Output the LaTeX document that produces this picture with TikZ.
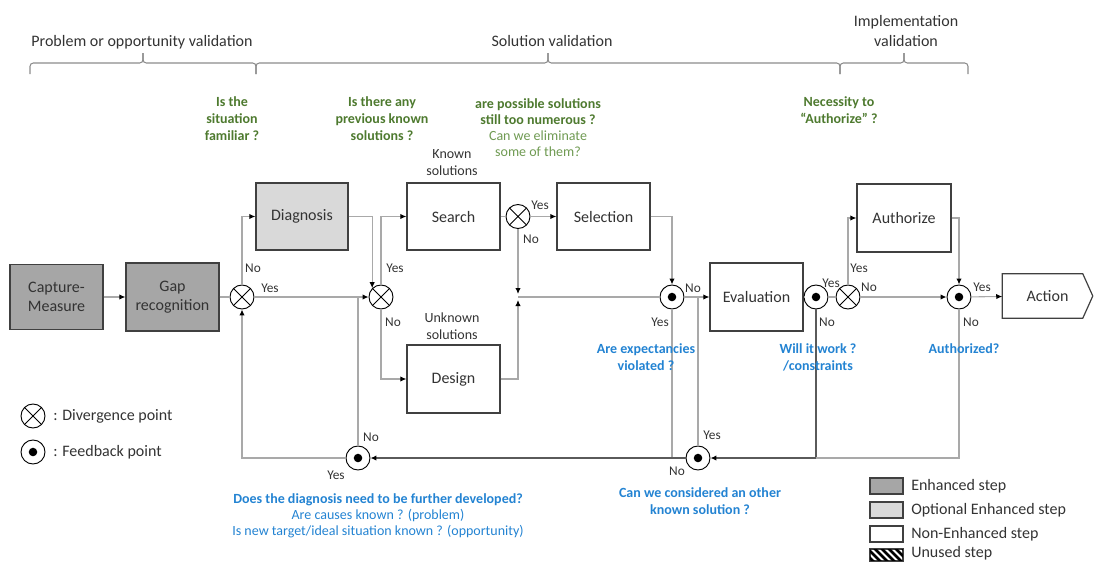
\documentclass[tikz,border=0pt]{standalone}
\usepackage{fontspec}
\setmainfont{Carlito}
\usetikzlibrary{arrows.meta,calc}

\definecolor{enh}{HTML}{A6A6A6}
\definecolor{opt}{HTML}{D9D9D9}
\definecolor{edge}{HTML}{404040}
\definecolor{wire}{HTML}{A9A9A9}
\definecolor{wiredark}{HTML}{5A5A5A}
\definecolor{qgreen}{HTML}{4E7A2F}
\definecolor{qgreenlight}{HTML}{6F9A52}
\definecolor{qblue}{HTML}{2383D2}
\definecolor{ink}{HTML}{333333}
\definecolor{bracecol}{HTML}{8C8C8C}

\begin{document}
\begin{tikzpicture}[x=0.75pt,y=-0.75pt,
  stepbox/.style={draw=edge,line width=0.9pt,fill=white,minimum width=69.75pt,
    minimum height=50.25pt,inner sep=0pt,text=ink,align=center,
    font=\fontsize{12}{14.5}\selectfont},
  enhanced/.style={stepbox,fill=enh},
  optional/.style={stepbox,fill=opt},
  plainstep/.style={stepbox,fill=white},
  diverge/.style={circle,draw=black,line width=0.7pt,fill=white,minimum size=18pt,inner sep=0pt,
    path picture={\draw[line width=0.7pt]
      (path picture bounding box.north west) -- (path picture bounding box.south east)
      (path picture bounding box.north east) -- (path picture bounding box.south west);}},
  feedback/.style={circle,draw=black,line width=0.7pt,fill=white,minimum size=18pt,inner sep=0pt,
    path picture={\fill[black] (path picture bounding box.center) circle (3.2pt);}},
  wire/.style={draw=wire,line width=0.8pt},
  flow/.style={wire,-{Latex[color=black,length=4.5pt,width=4pt]}},
  yn/.style={inner sep=0pt,text=ink,font=\fontsize{10}{12}\selectfont},
  header/.style={inner sep=0pt,text=ink,align=center,font=\fontsize{12}{15}\selectfont},
  gq/.style={inner sep=0pt,text=qgreen,align=center,font=\fontsize{10.5}{12.75}\selectfont\bfseries},
  bq/.style={inner sep=0pt,text=qblue,align=center,font=\fontsize{10.5}{12.75}\selectfont\bfseries},
  note/.style={inner sep=0pt,text=ink,align=center,font=\fontsize{10.5}{12.75}\selectfont},
  legtext/.style={inner sep=0pt,text=ink,anchor=west,font=\fontsize{12}{14}\selectfont},
  legbox/.style={draw=edge,line width=0.9pt,minimum width=24.75pt,minimum height=12pt,inner sep=0pt},
  bracket/.style={draw=bracecol,line width=0.8pt,rounded corners=2.5pt}
]
\useasboundingbox (0,0) rectangle (1094,561);

% ---- phase headers and braces ----
\node[header] (h1) at (142,42) {Problem or opportunity validation};
\node[header] (h2) at (552,41) {Solution validation};
\node[header] (h3) at (906,31) {Implementation\\validation};
\foreach \a/\t/\b in {30/143/256, 256/548/840, 840/904/968} {
  \draw[bracket] (\a,74) -- (\a,63) -- (\t,63) -- (\t,53);
  \draw[bracket] (\b,74) -- (\b,63) -- (\t,63) -- (\t,53);
}

% ---- guiding questions ----
\node[gq] (q1) at (232,119) {Is the\\situation\\familiar ?};
\node[gq] (q2) at (382,119) {Is there any\\previous known\\solutions ?};
\node[inner sep=0pt,align=center] (q3) at (538,127.5)
  {\textcolor{qgreen}{\fontsize{10.5}{12.75}\selectfont\bfseries are possible solutions}\\
   \textcolor{qgreen}{\fontsize{10.5}{12.75}\selectfont\bfseries still too numerous ?}\\
   \textcolor{qgreenlight}{\fontsize{10.5}{12.75}\selectfont Can we eliminate}\\
   \textcolor{qgreenlight}{\fontsize{10.5}{12.75}\selectfont some of them?}};
\node[gq] (q4) at (839,110.5) {Necessity to\\“Authorize” ?};
\node[note] (kn) at (452,162.5) {Known\\solutions};
\node[note] (un) at (452,326) {Unknown\\solutions};

% ---- steps ----
\node[enhanced,minimum height=48.75pt] (cap) at (56.5,297) {Capture-\\Measure};
\node[enhanced,minimum height=51pt] (gap) at (172.5,297) {Gap\\recognition};
\node[optional,minimum width=69pt] (diag) at (302,216.5) {Diagnosis};
\node[plainstep] (search) at (453.5,216.5) {Search};
\node[plainstep] (sel) at (603.5,216.5) {Selection};
\node[plainstep,minimum height=51pt] (design) at (453.5,379) {Design};
\node[plainstep,minimum height=51pt] (eval) at (756.5,297) {Evaluation};
\node[plainstep,minimum width=70.5pt,minimum height=51pt] (auth) at (904,218) {Authorize};
\node[inner sep=0pt,minimum width=67.5pt,minimum height=33pt,text=ink,
      font=\fontsize{12}{14.5}\selectfont] (action) at (1047.5,296) {Action};
\draw[draw=edge,line width=0.9pt] (action.north west) -- ($(action.north east)+(-10,0)$)
  -- (action.east) -- ($(action.south east)+(-10,0)$) -- (action.south west) -- cycle;

% ---- decision points ----
\node[diverge] (d1) at (242,297) {};
\node[diverge] (d2) at (381,297) {};
\node[diverge] (d3) at (518,216.5) {};
\node[diverge] (d4) at (848,297) {};
\node[feedback] (f1) at (672,297) {};
\node[feedback] (f2) at (816,297) {};
\node[feedback] (f3) at (959,297) {};
\node[feedback] (f4) at (358,458) {};
\node[feedback] (f5) at (698,458) {};
\coordinate (j) at (518,297);

% ---- connectors ----
\draw[flow] (cap) -- (gap);
\draw[wire] (gap) -- (d1);
\draw[flow] (d1) -- (d2);
\draw[flow] (d1.north) |- (diag.west);
\draw[flow] (diag.east) -| (d2.north west);
\draw[flow] (d2.north) |- (search.west);
\draw[flow] (d2.south) |- (design.west);
\draw[wire] (search) -- (d3);
\draw[flow] (d3) -- (sel);
\draw[flow] (d3.south) -- ($(j)+(0,-3)$);
\draw[flow] (design.east) -| ($(j)+(0,3)$);
\draw[wire] (j) -- (f1);
\draw[flow] (sel.east) -| (f1.north);
\draw[flow] (f1) -- (eval);
\draw[wire] (f1.south) -- (f1 |- f5);
\draw[flow,draw=wiredark] (f5) -- (f4);
\draw[wire] (f5.north) -- (f5 |- f1);
\draw[wire] (eval) -- (f2);
\draw[wire] (f2) -- (d4);
\draw[flow,draw=wiredark] (f2.south) |- (f5.east);
\draw[flow] (d4.north) |- (auth.west);
\draw[flow] (d4) -- (f3);
\draw[flow] (auth.east) -| (f3.north);
\draw[flow] (f3) -- (action);
\draw[wire] (f3.south) |- (f2 |- f5);
\draw[flow] (f4.west) -| (d1.south);
\draw[wire] (f4.north) -- (f4 |- d1);

% ---- branch labels ----
\node[yn] (l1) at (253,268) {No};
\node[yn] (l2) at (270,288) {Yes};
\node[yn] (l3) at (395,268) {Yes};
\node[yn] (l4) at (393,322) {No};
\node[yn] (l5) at (540,205) {Yes};
\node[yn] (l6) at (531,239) {No};
\node[yn] (l7) at (693,288) {No};
\node[yn] (l8) at (660,322) {Yes};
\node[yn] (l9) at (831,283) {Yes};
\node[yn] (l10) at (827,322) {No};
\node[yn] (l11) at (859,268) {Yes};
\node[yn] (l12) at (869,287) {No};
\node[yn] (l13) at (982,287) {Yes};
\node[yn] (l14) at (971,322) {No};
\node[yn] (l15) at (371,437) {No};
\node[yn] (l16) at (336,475) {Yes};
\node[yn] (l17) at (712,435) {Yes};
\node[yn] (l18) at (677,471) {No};

% ---- check questions ----
\node[bq] (c1) at (646,357) {Are expectancies\\violated ?};
\node[bq] (c2) at (818,357.5) {Will it work ?\\/constraints};
\node[bq] (c3) at (964,349) {Authorized?};
\node[inner sep=0pt,align=center,text=qblue] (c4) at (378,516)
  {{\fontsize{10.5}{13.8}\selectfont\bfseries Does the diagnosis need to be further developed?}\\
   {\fontsize{10.5}{13.8}\selectfont Are causes known ? (problem)}\\
   {\fontsize{10.5}{13.8}\selectfont Is new target/ideal situation known ? (opportunity)}};
\node[bq] (c5) at (700,501) {Can we considered an other\\known solution ?};

% ---- legend: symbols ----
\node[diverge] (sd) at (33,416) {};
\node[legtext] (sdt) at (53,416) {: Divergence point};
\node[feedback] (sf) at (33,452) {};
\node[legtext] (sft) at (53,452) {: Feedback point};

% ---- legend: step kinds ----
\node[legbox,fill=enh] (k1) at (886.5,486) {};
\node[legtext] (k1t) at (911,486) {Enhanced step};
\node[legbox,fill=opt] (k2) at (886.5,510) {};
\node[legtext] (k2t) at (911,510) {Optional Enhanced step};
\node[legbox,fill=white] (k3) at (886.5,534) {};
\node[legtext] (k3t) at (911,534) {Non-Enhanced step};
\node[legbox,minimum height=9pt] (k4) at (886.5,555) {};
\begin{scope}
  \clip (k4.north west) rectangle (k4.south east);
  \foreach \s in {-16,-9,...,40} {
    \draw[black,line width=2pt] ($(k4.north west)+(\s,0)$) -- ++(15,15);
  }
\end{scope}
\draw[draw=edge,line width=0.9pt] (k4.north west) rectangle (k4.south east);
\node[legtext,anchor=base west] (k4t) at (911,557) {Unused step};
\end{tikzpicture}
\end{document}
